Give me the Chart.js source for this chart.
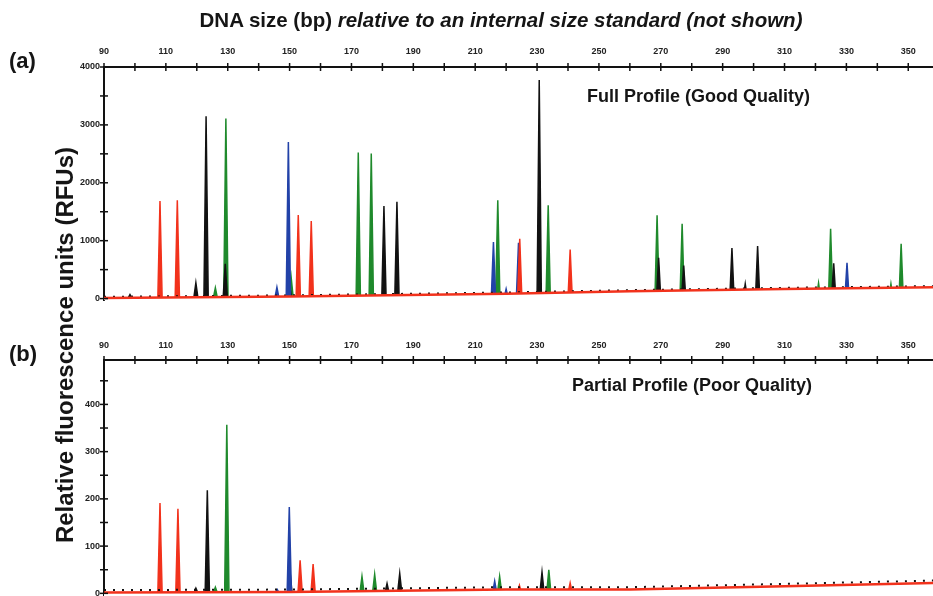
<!DOCTYPE html>
<html>
<head>
<meta charset="utf-8">
<script src="https://cdn.jsdelivr.net/npm/chart.js@4.4.1/dist/chart.umd.min.js"></script>
<style>
  body { margin: 0; width: 933px; height: 596px; overflow: hidden; background: #fff; position: relative; }
  canvas { position: absolute; left: 0; }
  .txt { position: absolute; white-space: nowrap; color: #151515; z-index: 2; }
  #title { left: 0; width: 1002px; top: 8px; text-align: center; font: bold 20.5px "Liberation Sans Narrow", "Liberation Sans", sans-serif; }
  #title i { font-style: italic; }
  .panel-tag { left: 9px; font: bold 22px "Liberation Sans", Arial, sans-serif; }
  .profile { font: bold 18px "Liberation Sans", Arial, sans-serif; }
  #ylabel { left: -185px; top: 331px; width: 500px; text-align: center; transform: rotate(-90deg);
            font: bold 24px "Liberation Sans", Arial, sans-serif; }
</style>
</head>
<body>
<div class="txt" id="title">DNA size (bp) <i>relative to an internal size standard (not shown)</i></div>
<div class="txt panel-tag" style="top:48px">(a)</div>
<div class="txt panel-tag" style="top:341px">(b)</div>
<div class="txt profile" style="left:587px;top:86px">Full Profile (Good Quality)</div>
<div class="txt profile" style="left:572px;top:375px">Partial Profile (Poor Quality)</div>
<div class="txt" id="ylabel">Relative fluorescence units (RFUs)</div>

<canvas id="topChart" width="933" height="310" style="top:0"></canvas>
<canvas id="bottomChart" width="933" height="269" style="top:338px"></canvas>

<script>
// оси
const xTicks = [90, 100, 110, 120, 130, 140, 150, 160, 170, 180, 190, 200, 210, 220, 230, 240, 250, 260, 270, 280, 290, 300, 310, 320, 330, 340, 350];
const topYTicks = [0, 500, 1000, 1500, 2000, 2500, 3000, 3500, 4000];
const bottomYTicks = [0, 50, 100, 150, 200, 250, 300, 350, 400, 450];

// базовая линия (шум), bp -> RFU
const baseBp = [90, 150, 220, 260, 310, 358];
const topRedBase = [10, 35, 85, 125, 165, 195];
const topBlackNoise = [30, 55, 105, 145, 185, 215];
const bottomRedBase = [2, 3, 8, 8, 15, 22];
const bottomBlackNoise = [7, 8, 13, 13, 20, 27];

// пики: [размер bp, высота RFU]
const topRed = [[108.1, 1685], [113.7, 1697], [152.8, 1442], [157.0, 1338], [224.4, 1034], [240.7, 848]];
const topBlack = [[98.4, 70], [119.7, 272], [123.0, 3151], [129.2, 600], [150.0, 225], [180.5, 1598], [184.7, 1674],
  [230.7, 3775], [269.3, 705], [277.4, 571], [293.0, 871], [297.3, 254], [301.3, 906], [325.9, 611]];
const topGreen = [[126.0, 185], [129.4, 3112], [150.5, 370], [172.2, 2523], [176.4, 2505], [217.3, 1697], [233.6, 1610],
  [268.8, 1437], [276.9, 1293], [321.0, 265], [324.9, 1207], [344.4, 254], [347.7, 947]];
const topBlue = [[145.9, 196], [149.6, 2706], [215.9, 975], [220.0, 168], [224.0, 965], [330.2, 618]];

const bottomRed = [[108.1, 191], [113.9, 179], [153.4, 70], [157.6, 62], [224.3, 17], [240.7, 22]];
const bottomBlack = [[119.7, 11], [123.4, 218], [150.1, 50], [181.5, 21], [185.6, 42], [231.6, 45]];
const bottomGreen = [[126.0, 13], [129.7, 357], [173.4, 36], [177.5, 40], [217.9, 36], [233.8, 50]];
const bottomBlue = [[146.0, 8], [149.9, 183], [216.3, 26]];

const RED = '#f2321c';
const BLACK = '#121212';
const GREEN = '#1f8a2c';
const BLUE = '#2242a8';
const tickFont = { family: '"Liberation Sans Narrow", "Liberation Sans", sans-serif', size: 9, weight: 'bold' };

function peakPoints(peaks) {
  const pts = [];
  peaks.forEach(([bp, h]) => {
    pts.push({ x: bp - 0.7, y: 0 }, { x: bp, y: h }, { x: bp + 0.7, y: 0 }, { x: bp + 0.7, y: null });
  });
  return pts;
}

function linePoints(xs, ys) {
  return xs.map((x, i) => ({ x: x, y: ys[i] }));
}

// крестики делений поверх осей
const crossTicks = {
  id: 'crossTicks',
  afterDraw(chart) {
    const { ctx, chartArea, scales } = chart;
    ctx.save();
    ctx.strokeStyle = BLACK;
    ctx.lineWidth = 1.5;
    scales.x.ticks.forEach(t => {
      const px = scales.x.getPixelForValue(t.value);
      ctx.beginPath();
      ctx.moveTo(px, chartArea.top - 4);
      ctx.lineTo(px, chartArea.top + 4);
      ctx.stroke();
    });
    scales.y.ticks.forEach(t => {
      const py = scales.y.getPixelForValue(t.value);
      if (py < chartArea.top - 1 || py > chartArea.bottom) return;
      ctx.beginPath();
      ctx.moveTo(chartArea.left - 4, py);
      ctx.lineTo(chartArea.left + 4, py);
      ctx.stroke();
    });
    ctx.restore();
  }
};

function makePanel(canvasId, cfg) {
  const peakSet = (data, color) => ({
    data: peakPoints(data),
    borderColor: color,
    backgroundColor: color,
    fill: { value: 0 },
    borderWidth: 1.5,
    pointRadius: 0,
    tension: 0,
    spanGaps: false,
    order: 2
  });

  return new Chart(document.getElementById(canvasId), {
    type: 'line',
    data: {
      datasets: [
        {
          data: linePoints(baseBp, cfg.redBase),
          borderColor: RED,
          borderWidth: 2.5,
          pointRadius: 0,
          fill: 'start',
          backgroundColor: '#ffffff',
          order: 0
        },
        {
          data: linePoints(baseBp, cfg.blackNoise),
          borderColor: BLACK,
          borderWidth: 2,
          borderDash: [2, 7],
          pointRadius: 0,
          order: 1
        },
        peakSet(cfg.red, RED),
        peakSet(cfg.blue, BLUE),
        peakSet(cfg.black, BLACK),
        peakSet(cfg.green, GREEN)
      ]
    },
    options: {
      responsive: false,
      animation: false,
      events: [],
      layout: { padding: { left: 64, right: 0, top: 0, bottom: cfg.padBottom } },
      plugins: { legend: { display: false }, tooltip: { enabled: false } },
      scales: {
        x: {
          type: 'linear',
          position: 'top',
          min: 90,
          max: 358,
          z: 1,
          afterBuildTicks: s => { s.ticks = xTicks.map(v => ({ value: v })); },
          afterFit: s => { s.height = cfg.xHeight; },
          grid: { display: false, drawTicks: false },
          border: { display: true, color: BLACK, width: 2 },
          ticks: {
            padding: cfg.xPad,
            maxRotation: 0,
            autoSkip: false,
            color: '#222',
            font: tickFont,
            callback: v => ((v - 90) % 20 === 0 ? String(v) : '')
          }
        },
        y: {
          type: 'linear',
          min: cfg.yMin,
          max: cfg.yMax,
          z: 1,
          afterBuildTicks: s => { s.ticks = cfg.yTicks.map(v => ({ value: v })); },
          afterFit: s => { s.width = 40; },
          grid: { display: false, drawTicks: false },
          border: { display: true, color: BLACK, width: 2 },
          ticks: {
            padding: 4,
            autoSkip: false,
            color: '#222',
            font: tickFont,
            callback: v => (v % cfg.labelStep === 0 ? String(v) : '')
          }
        }
      }
    },
    plugins: [crossTicks]
  });
}

makePanel('topChart', {
  red: topRed, black: topBlack, green: topGreen, blue: topBlue,
  redBase: topRedBase, blackNoise: topBlackNoise,
  yMin: -35, yMax: 4000, yTicks: topYTicks, labelStep: 1000,
  xHeight: 67, xPad: 10, padBottom: 2
});

makePanel('bottomChart', {
  red: bottomRed, black: bottomBlack, green: bottomGreen, blue: bottomBlue,
  redBase: bottomRedBase, blackNoise: bottomBlackNoise,
  yMin: -9, yMax: 494, yTicks: bottomYTicks, labelStep: 100,
  xHeight: 22, xPad: 9, padBottom: 0
});
</script>
</body>
</html>
